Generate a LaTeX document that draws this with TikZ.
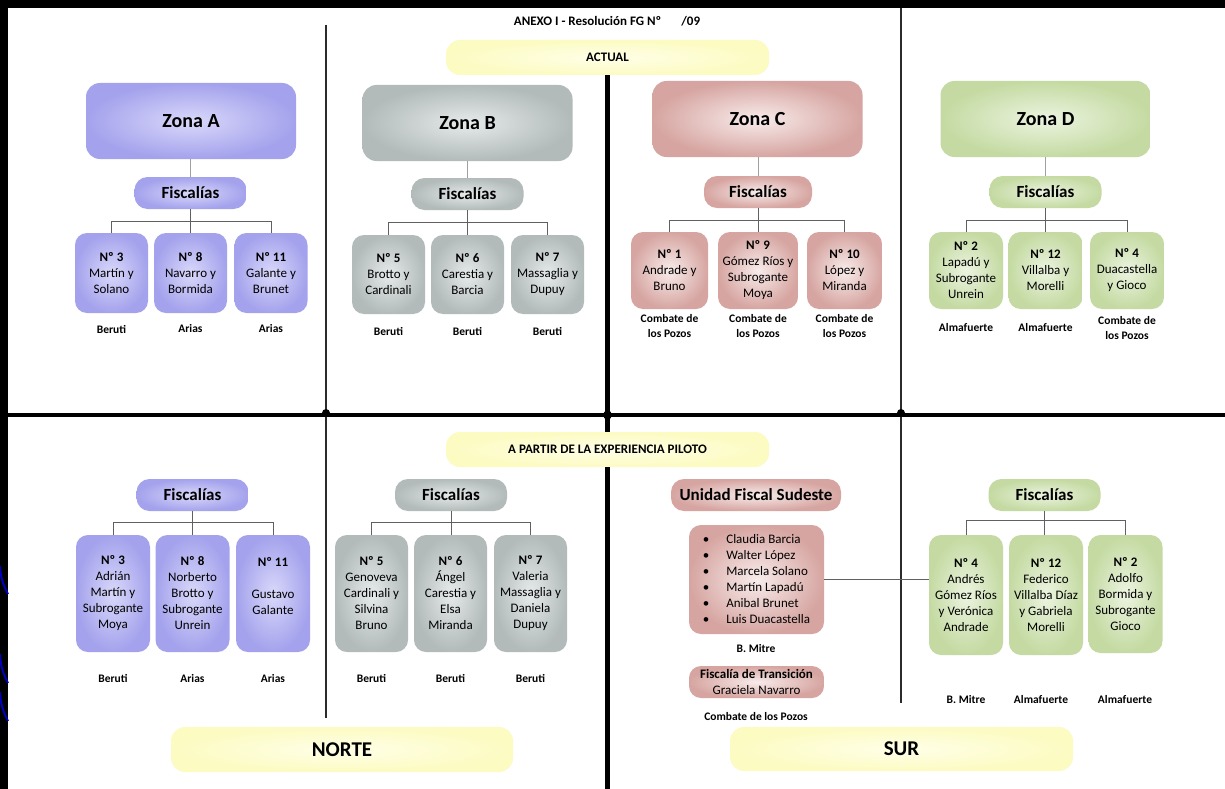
\documentclass[tikz,border=0pt]{standalone}
\usepackage{fontspec}
\setmainfont{Carlito}

\definecolor{Ain}{HTML}{D9D8FA}
\definecolor{Aout}{HTML}{A4A2EC}
\definecolor{Bin}{HTML}{E6EAEA}
\definecolor{Bout}{HTML}{B2BABA}
\definecolor{Cin}{HTML}{F8ECEB}
\definecolor{Cout}{HTML}{D6A5A1}
\definecolor{Din}{HTML}{ECF4E0}
\definecolor{Dout}{HTML}{C4DAA2}
\definecolor{yelin}{HTML}{FFFFE8}
\definecolor{yelout}{HTML}{FCFBC2}
\definecolor{linkgrey}{HTML}{A0A0A0}
\definecolor{brkgrey}{HTML}{606060}
\definecolor{divgrey}{HTML}{2B2B2B}

\begin{document}
\begin{tikzpicture}[x=1pt, y=-1pt,
    zona/.style={rounded corners=14pt, minimum width=210pt, minimum height=76pt, font=\bfseries\fontsize{20}{24}\selectfont},
    fisc/.style={rounded corners=13pt, minimum width=112pt, minimum height=32pt, inner sep=0pt, font=\bfseries\fontsize{17}{20}\selectfont},
    fbox/.style={rounded corners=12pt, minimum width=74pt, align=center, inner sep=0pt, font=\fontsize{13}{16}\selectfont},
    sede/.style={align=center, inner sep=0pt, font=\bfseries\fontsize{11.5}{15}\selectfont},
    banner/.style={rounded corners=14pt, inner color=yelin, outer color=yelout, inner sep=0pt},
    colA/.style={inner color=Ain, outer color=Aout},
    colB/.style={inner color=Bin, outer color=Bout},
    colC/.style={inner color=Cin, outer color=Cout},
    colD/.style={inner color=Din, outer color=Dout},
    link/.style={draw=linkgrey, line width=1pt},
    brk/.style={draw=brkgrey, line width=0.9pt}]
    % Draw frame
    \fill[black] (0,0) rectangle (1225,789);
    \fill[white] (8,8) rectangle (1225,789);
    \useasboundingbox (0,0) rectangle (1225,789);
    \draw[blue!75!black, line width=2pt] (0,566) to[bend right=12] (8,594);
    \draw[blue!75!black, line width=2pt] (0,654) to[bend right=12] (8,683);
    \draw[blue!75!black, line width=2pt] (0,692) to[bend right=12] (8,721);
    % Draw header and banners
    \node[font=\bfseries\fontsize{13}{16}\selectfont] (anexo) at (607,21) {ANEXO I - Resolución FG Nº\hspace{20pt}/09};
    \node[banner, minimum width=323pt, minimum height=35pt, font=\bfseries\fontsize{13}{16}\selectfont] (actual) at (607.5,57.5) {ACTUAL};
    \node[banner, minimum width=323pt, minimum height=35pt, font=\bfseries\fontsize{13}{16}\selectfont] (piloto) at (607.5,449.5) {A PARTIR DE LA EXPERIENCIA PILOTO};
    \node[banner, minimum width=342pt, minimum height=45pt, font=\bfseries\fontsize{21}{24}\selectfont] (norte) at (342,749.5) {NORTE};
    \node[banner, minimum width=343pt, minimum height=44pt, font=\bfseries\fontsize{21}{24}\selectfont] (sur) at (901.5,749) {SUR};
    % Draw dividers
    \draw[line width=4.5pt] (8,415) -- (1225,415);
    \draw[line width=5pt] (actual.south) -- (piloto.north);
    \draw[line width=5pt] (piloto.south) -- (607.5,789);
    \draw[divgrey, line width=2pt] (326,25) -- (326,718);
    \draw[divgrey, line width=2pt] (901,8) -- (901,703);
    \fill (326,413) circle[radius=4pt];
    \fill (607.5,415) circle[radius=4.5pt];
    \fill (901,413) circle[radius=4pt];

    % Draw zones (actual)
    \node[zona, colA] (zonaA) at (191,121) {Zona A};
    \node[zona, colB] (zonaB) at (467.5,123) {Zona B};
    \node[zona, colC] (zonaC) at (757.5,119) {Zona C};
    \node[zona, colD] (zonaD) at (1045.5,119) {Zona D};
    \node[fisc, colA] (fa) at (190.5,193) {Fiscalías};
    \node[fisc, colB] (fb) at (467.5,194) {Fiscalías};
    \node[fisc, colC, minimum width=108pt] (fc) at (758,192) {Fiscalías};
    \node[fisc, colD] (fd) at (1045.5,192) {Fiscalías};
    % Zona A
    \node[fbox, colA, minimum width=73pt, minimum height=80pt] (a3) at (111.5,273) {\textbf{Nº 3}\\Martín y\\Solano};
    \node[fbox, colA, minimum width=73pt, minimum height=80pt] (a8) at (190.5,273) {\textbf{Nº 8}\\Navarro y\\Bormida};
    \node[fbox, colA, minimum width=73pt, minimum height=80pt] (a11) at (271,273) {\textbf{Nº 11}\\Galante y\\Brunet};
    % Zona B
    \node[fbox, colB, minimum width=73pt, minimum height=79pt] (b5) at (388.5,274.5) {\textbf{Nº 5}\\Brotto y\\Cardinali};
    \node[fbox, colB, minimum width=73pt, minimum height=79pt] (b6) at (467.5,274.5) {\textbf{Nº 6}\\Carestia y\\Barcia};
    \node[fbox, colB, minimum width=73pt, minimum height=79pt] (b7) at (547.5,274.5) {\textbf{Nº 7}\\Massaglia y\\Dupuy};
    % Zona C
    \node[fbox, colC, minimum width=77pt, minimum height=77pt] (c1) at (669.5,270.5) {\textbf{Nº 1}\\Andrade y\\Bruno};
    \node[fbox, colC, minimum width=80pt, minimum height=77pt] (c9) at (758,270.5) {\textbf{Nº 9}\\Gómez Ríos y\\Subrogante\\Moya};
    \node[fbox, colC, minimum width=75pt, minimum height=77pt] (c10) at (844.5,270.5) {\textbf{Nº 10}\\López y\\Miranda};
    % Zona D
    \node[fbox, colD, minimum height=77pt] (d2) at (966,270.5) {\textbf{Nº 2}\\Lapadú y\\Subrogante\\Unrein};
    \node[fbox, colD, minimum height=77pt] (d12) at (1045.5,270.5) {\textbf{Nº 12}\\Villalba y\\Morelli};
    \node[fbox, colD, minimum height=77pt] (d4) at (1127,270.5) {\textbf{Nº 4}\\Duacastella\\y Gioco};
    % Sedes (actual)
    \node[sede] (sa3) at (111.5,329) {Beruti};
    \node[sede] (sa8) at (190.5,329) {Arias};
    \node[sede] (sa11) at (271,329) {Arias};
    \node[sede] (sb5) at (388.5,331) {Beruti};
    \node[sede] (sb6) at (467.5,331) {Beruti};
    \node[sede] (sb7) at (547.5,331) {Beruti};
    \node[sede] (sc1) at (669.5,326.5) {Combate de\\los Pozos};
    \node[sede] (sc9) at (758,326.5) {Combate de\\los Pozos};
    \node[sede] (sc10) at (844.5,326.5) {Combate de\\los Pozos};
    \node[sede] (sd2) at (966,328) {Almafuerte};
    \node[sede] (sd12) at (1045.5,328) {Almafuerte};
    \node[sede] (sd4) at (1127,328.5) {Combate de\\los Pozos};
    % Draw links (actual)
    \draw[link] (fa.north) -- (fa.north |- zonaA.south);
    \draw[link] (fb.north) -- (fb.north |- zonaB.south);
    \draw[link] (fc.north) -- (fc.north |- zonaC.south);
    \draw[link] (fd.north) -- (fd.north |- zonaD.south);
    \draw[brk] (fa.south) -- (fa.south |- a8.north);
    \draw[brk] (a3.north) -- ++(0,-11) -| (a11.north);
    \draw[brk] (fb.south) -- (fb.south |- b6.north);
    \draw[brk] (b5.north) -- ++(0,-12) -| (b7.north);
    \draw[brk] (fc.south) -- (fc.south |- c9.north);
    \draw[brk] (c1.north) -- ++(0,-11) -| (c10.north);
    \draw[brk] (fd.south) -- (fd.south |- d12.north);
    \draw[brk] (d2.north) -- ++(0,-11) -| (d4.north);

    % Draw zones (piloto)
    \node[fisc, colA] (fa2) at (192.5,495) {Fiscalías};
    \node[fisc, colB] (fb2) at (451,495) {Fiscalías};
    \node[fisc, colC, minimum width=170pt] (ufs) at (756,495) {Unidad Fiscal Sudeste};
    \node[fisc, colD] (fd2) at (1044.5,495) {Fiscalías};
    % Norte A
    \node[fbox, colA, minimum height=117pt] (n3) at (113,593.5) {\textbf{Nº 3}\\Adrián\\Martín y\\Subrogante\\Moya};
    \node[fbox, colA, minimum height=117pt] (n8) at (192.5,593.5) {\textbf{Nº 8}\\Norberto\\Brotto y\\Subrogante\\Unrein};
    \node[fbox, colA, minimum height=117pt] (n11) at (273,593.5) {\textbf{Nº 11}\\\mbox{}\\Gustavo\\Galante\\\mbox{}};
    % Norte B
    \node[fbox, colB, minimum width=73pt, minimum height=117pt] (n5) at (371.5,593.5) {\textbf{Nº 5}\\Genoveva\\Cardinali y\\Silvina\\Bruno};
    \node[fbox, colB, minimum width=73pt, minimum height=117pt] (n6) at (450.5,593.5) {\textbf{Nº 6}\\Ángel\\Carestia y\\Elsa\\Miranda};
    \node[fbox, colB, minimum width=73pt, minimum height=117pt] (n7) at (530.5,593.5) {\textbf{Nº 7}\\Valeria\\Massaglia y\\Daniela\\Dupuy};
    % Sur C
    \node[fbox, colC, minimum width=135pt, minimum height=109pt, align=left, inner xsep=3pt] (ufl) at (756.5,579.5)
        {\textbullet\hspace{17pt}Claudia Barcia\\\textbullet\hspace{17pt}Walter López\\\textbullet\hspace{17pt}Marcela Solano\\\textbullet\hspace{17pt}Martín Lapadú\\\textbullet\hspace{17pt}Anibal Brunet\\\textbullet\hspace{17pt}Luis Duacastella};
    \node[fbox, colC, minimum width=135pt, minimum height=32pt] (trans) at (756.5,682) {\textbf{Fiscalía de Transición}\\Graciela Navarro};
    % Sur D
    \node[fbox, colD, minimum height=120pt] (m4) at (966,595) {\textbf{Nº 4}\\Andrés\\Gómez Ríos\\y Verónica\\Andrade};
    \node[fbox, colD, minimum height=120pt] (m12) at (1046,595) {\textbf{Nº 12}\\Federico\\Villalba Díaz\\y Gabriela\\Morelli};
    \node[fbox, colD, minimum height=118pt] (m2) at (1125.5,594) {\textbf{Nº 2}\\Adolfo\\Bormida y\\Subrogante\\Gioco};
    % Sedes (piloto)
    \node[sede] (sn3) at (113,678) {Beruti};
    \node[sede] (sn8) at (192.5,678) {Arias};
    \node[sede] (sn11) at (273,678) {Arias};
    \node[sede] (sn5) at (371.5,678) {Beruti};
    \node[sede] (sn6) at (450.5,678) {Beruti};
    \node[sede] (sn7) at (530.5,678) {Beruti};
    \node[sede] (sufl) at (756,648) {B. Mitre};
    \node[sede] (strans) at (756,716) {Combate de los Pozos};
    \node[sede] (sm4) at (966,699) {B. Mitre};
    \node[sede] (sm12) at (1041,699) {Almafuerte};
    \node[sede] (sm2) at (1125,699) {Almafuerte};
    % Draw links (piloto)
    \draw[brk] (fa2.south) -- (fa2.south |- n8.north);
    \draw[brk] (n3.north) -- ++(0,-12) -| (n11.north);
    \draw[brk] (fb2.south) -- (fb2.south |- n6.north);
    \draw[brk] (n5.north) -- ++(0,-12) -| (n7.north);
    \draw[brk] (fd2.south) -- (fd2.south |- m12.north);
    \draw[brk] (m4.north) -- ++(0,-14) -| (m2.north);
    \draw[brk] (ufl.east) -- (ufl.east -| m4.west);
\end{tikzpicture}
\end{document}
